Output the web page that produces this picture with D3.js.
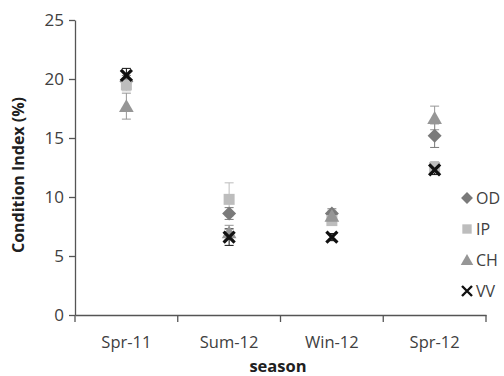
<!DOCTYPE html>
<html><head><meta charset="utf-8">
<script src="https://cdn.jsdelivr.net/npm/d3@7"></script>
<style>body{margin:0;background:#fff}svg{display:block}</style>
</head><body>
<svg id="c" width="504" height="376"></svg>
<script>
const categories = ["Spr-11", "Sum-12", "Win-12", "Spr-12"];
const seriesNames = ["OD", "IP", "CH", "VV"];
const OD = [19.8, 8.6, 8.6, 15.2];
const OD_err = [0.5, 0.5, 0.4, 1.0];
const IP = [19.5, 9.8, 8.0, 12.5];
const IP_err = [0.5, 1.4, 0.4, 0.5];
const CH = [17.7, 7.0, 8.4, 16.7];
const CH_err = [1.1, 0.6, 0.4, 1.0];
const VV = [20.3, 6.6, 6.6, 12.3];
const VV_err = [0.6, 0.7, 0.3, 0.4];
const yTicks = [0, 5, 10, 15, 20, 25];

// custom marker shapes (unit r = half-size)
const shapes = {
  diamond: r => `M0,${-r}L${r},0L0,${r}L${-r},0Z`,
  square: r => `M${-r},${-r}H${r}V${r}H${-r}Z`,
  triangle: r => `M0,${-r}L${r * 1.05},${r * 0.85}L${-r * 1.05},${r * 0.85}Z`,
  x: r => `M${-r},${-r}L${r},${r}M${r},${-r}L${-r},${r}`
};
const series = [
  {name: seriesNames[0], vals: OD, err: OD_err, color: "#7a7a7a", shape: "diamond", r: 7},
  {name: seriesNames[1], vals: IP, err: IP_err, color: "#bdbdbd", shape: "square", r: 5.5},
  {name: seriesNames[2], vals: CH, err: CH_err, color: "#969696", shape: "triangle", r: 7},
  {name: seriesNames[3], vals: VV, err: VV_err, color: "#111111", shape: "x", r: 5.5}
];

const svg = d3.select("#c");
const x = d3.scaleBand().domain(categories).range([75, 486]);
const y = d3.scaleLinear().domain([0, 25]).range([315, 20]);
const font = "'Open Sans', 'Liberation Sans', sans-serif";

const yAx = svg.append("g").attr("transform", "translate(75,0)")
  .call(d3.axisLeft(y).tickValues(yTicks).tickSize(6).tickSizeOuter(0));
const xAx = svg.append("g").attr("transform", "translate(0,315)")
  .call(d3.axisBottom(x).tickSize(0).tickSizeOuter(0));
[yAx, xAx].forEach(a => {
  a.select(".domain").attr("stroke", "#555").attr("stroke-width", 1.3);
  a.selectAll(".tick line").attr("stroke", "#555").attr("stroke-width", 1.3);
  a.selectAll("text").attr("fill", "#404040").style("font-family", font);
});
yAx.selectAll("text").attr("x", -11).style("font-size", "17px");
xAx.selectAll("text").attr("dy", 0).attr("y", 33).style("font-size", "16.5px");
// category boundary ticks on x axis
const bounds = categories.map(c => x(c)).concat([x(categories[categories.length - 1]) + x.bandwidth()]);
svg.append("g").selectAll("line").data(bounds).join("line")
  .attr("x1", d => d).attr("x2", d => d).attr("y1", 315).attr("y2", 322)
  .attr("stroke", "#555").attr("stroke-width", 1.3);

svg.append("text").attr("transform", "translate(24,175) rotate(-90)")
  .attr("text-anchor", "middle").attr("fill", "#202020")
  .style("font-family", font).style("font-size", "16px").style("font-weight", "bold")
  .text("Condition Index (%)");
svg.append("text").attr("x", 278).attr("y", 372).attr("text-anchor", "middle").attr("fill", "#202020")
  .style("font-family", font).style("font-size", "16.5px").style("font-weight", "bold")
  .text("season");

const cx = c => x(c) + x.bandwidth() / 2;
series.forEach(s => {
  const g = svg.append("g");
  categories.forEach((c, i) => {
    const v = s.vals[i], e = s.err[i];
    g.append("line").attr("x1", cx(c)).attr("x2", cx(c)).attr("y1", y(v - e)).attr("y2", y(v + e))
      .attr("stroke", s.color).attr("stroke-width", 1);
    [v - e, v + e].forEach(t => g.append("line").attr("x1", cx(c) - 4.5).attr("x2", cx(c) + 4.5)
      .attr("y1", y(t)).attr("y2", y(t)).attr("stroke", s.color).attr("stroke-width", 1));
  });
});
function mark(g, s, px, py, r, sw) {
  const p = g.append("path").attr("d", shapes[s.shape](r)).attr("transform", `translate(${px},${py})`);
  if (s.shape === "x") p.attr("fill", "none").attr("stroke", s.color).attr("stroke-width", sw);
  else p.attr("fill", s.color);
}
series.forEach(s => {
  const g = svg.append("g");
  categories.forEach((c, i) => mark(g, s, cx(c), y(s.vals[i]), s.r, 3.2));
});

// legend
const leg = svg.append("g");
series.forEach((s, i) => {
  const ly = 198 + i * 31;
  mark(leg, s, 467, ly, s.shape === "x" ? 5 : s.r * 0.85, 2.4);
  leg.append("text").attr("x", 476).attr("y", ly + 6).attr("fill", "#404040")
    .style("font-family", font).style("font-size", "16px").text(s.name);
});
</script>
</body></html>
